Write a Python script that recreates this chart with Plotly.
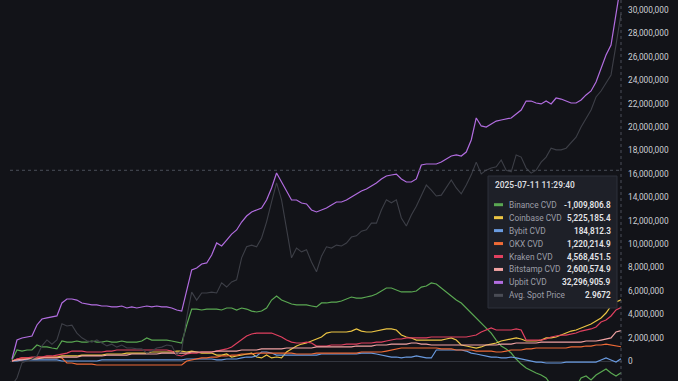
import plotly.graph_objects as go
import pandas as pd

# ---------------- data ----------------
times = pd.date_range(end="2025-07-11 11:29:40", periods=123, freq="35min")

# CVD values in millions
binance_cvd_m = [
    0.09, 0.94, 0.85, 0.94, 0.94, 1.37, 1.20, 1.20, 1.11, 1.03,
    1.71, 1.62, 1.62, 1.71, 1.62, 1.62, 1.71, 1.62, 1.62, 1.71,
    1.62, 1.62, 1.71, 1.62, 1.62, 1.62, 1.71, 1.97, 1.79, 1.79,
    1.79, 1.79, 1.71, 1.62, 1.54, 3.08, 4.44, 4.44, 4.36, 4.44,
    4.44, 4.44, 4.36, 4.53, 4.53, 4.36, 4.53, 4.44, 4.27, 4.19,
    4.27, 4.53, 5.21, 5.56, 5.21, 5.04, 4.87, 4.79, 4.79, 4.79,
    4.70, 4.62, 4.96, 4.96, 5.04, 5.04, 5.13, 5.30, 5.47, 5.38,
    5.38, 5.47, 5.56, 5.73, 5.98, 6.24, 6.24, 6.07, 5.90, 5.90,
    5.90, 5.98, 6.32, 6.41, 6.67, 6.58, 6.24, 5.90, 5.56, 5.21,
    4.96, 4.53, 4.02, 3.59, 3.16, 2.74, 2.39, 1.79, 1.28, 1.03,
    0.68, 0.17, -0.26, -0.60, -0.85, -1.03, -1.20, -1.45, -2.05, -2.31,
    -2.48, -2.14, -2.39, -2.22, -1.45, -1.28, -1.62, -1.20, -0.94, -0.68,
    -1.03, -1.28, -1.0098068,
]
coinbase_cvd_m = [
    0.00, 0.09, 0.17, 0.17, 0.26, 0.26, 0.26, 0.34, 0.34, 0.34,
    0.43, 0.43, 0.43, 0.43, 0.51, 0.51, 0.51, 0.51, 0.51, 0.60,
    0.60, 0.60, 0.60, 0.68, 0.68, 0.68, 0.68, 0.68, 0.77, 0.77,
    0.77, 0.77, 0.77, 0.85, 0.85, 0.77, 0.85, 0.77, 0.68, 0.68,
    0.68, 0.51, 0.51, 0.60, 0.34, 0.43, 0.51, 0.60, 0.68, 0.34,
    0.26, 0.51, 0.26, 0.34, 0.26, 0.77, 1.03, 1.28, 1.45, 1.54,
    1.71, 1.88, 2.05, 2.39, 2.48, 2.48, 2.48, 2.48, 2.56, 2.74,
    2.56, 2.48, 2.48, 2.56, 2.65, 2.74, 2.74, 2.65, 2.22, 2.05,
    1.97, 1.79, 1.79, 1.79, 1.79, 1.79, 1.79, 1.88, 1.97, 1.79,
    1.37, 1.28, 1.20, 1.11, 1.20, 1.37, 1.45, 1.54, 1.71, 1.79,
    1.88, 1.97, 1.88, 1.71, 1.71, 1.71, 1.79, 1.97, 1.97, 2.05,
    2.22, 2.39, 2.56, 2.65, 2.82, 2.99, 3.16, 3.42, 3.68, 4.10,
    4.70, 5.04, 5.2251854,
]
bybit_cvd_m = [
    0.00, 0.00, 0.09, 0.09, 0.09, 0.09, 0.09, 0.09, 0.09, 0.09,
    0.00, 0.00, 0.00, 0.00, 0.00, 0.00, 0.00, 0.00, 0.09, 0.09,
    0.09, 0.09, 0.09, 0.09, 0.09, 0.09, 0.09, 0.09, 0.09, 0.09,
    0.09, 0.09, 0.09, 0.09, 0.09, 0.17, 0.17, 0.17, 0.17, 0.17,
    0.17, 0.09, 0.09, 0.17, 0.17, 0.17, 0.26, 0.34, 0.34, 0.43,
    0.77, 0.77, 0.68, 0.51, 0.51, 0.51, 0.51, 0.51, 0.51, 0.51,
    0.51, 0.51, 0.60, 0.60, 0.60, 0.60, 0.60, 0.60, 0.60, 0.60,
    0.68, 0.68, 0.68, 0.60, 0.51, 0.43, 0.34, 0.34, 0.26, 0.34,
    0.34, 0.43, 0.34, 0.26, 0.26, 0.94, 0.94, 0.94, 0.94, 0.94,
    0.94, 0.85, 0.68, 0.60, 0.51, 0.43, 0.34, 0.34, 0.26, 0.26,
    0.34, 0.26, 0.17, 0.09, 0.00, -0.09, -0.09, -0.17, -0.17, -0.17,
    -0.17, -0.09, -0.09, -0.09, -0.09, -0.09, -0.09, -0.09, 0.09, 0.26,
    0.09, -0.09, 0.1848123,
]
okx_cvd_m = [
    0.00, 0.17, 0.26, 0.26, 0.26, 0.34, 0.34, 0.34, 0.34, 0.34,
    0.26, -0.17, -0.17, -0.26, -0.26, -0.26, -0.26, -0.34, -0.34, -0.34,
    -0.34, -0.34, -0.34, -0.34, -0.34, -0.34, -0.34, -0.34, -0.34, -0.34,
    -0.34, -0.34, -0.34, -0.34, -0.34, 0.00, 0.09, 0.17, 0.26, 0.26,
    0.34, 0.34, 0.43, 0.43, 0.51, 0.51, 0.60, 0.60, 0.60, 0.68,
    0.68, 0.68, 0.68, 0.68, 0.68, 0.68, 0.68, 0.60, 0.60, 0.60,
    0.60, 0.68, 0.68, 0.68, 0.68, 0.68, 0.68, 0.68, 0.68, 0.68,
    0.77, 0.77, 0.77, 0.77, 0.77, 0.85, 0.94, 1.03, 1.11, 1.11,
    1.11, 1.11, 1.11, 1.11, 1.11, 1.11, 1.03, 1.03, 1.03, 0.94,
    0.94, 0.94, 0.94, 0.85, 0.85, 0.85, 0.85, 0.77, 0.77, 0.85,
    0.94, 0.94, 0.94, 1.03, 1.03, 1.11, 1.11, 1.11, 1.11, 1.11,
    1.11, 1.11, 1.20, 1.20, 1.20, 1.28, 1.28, 1.37, 1.37, 1.45,
    1.37, 1.28, 1.2202149,
]
kraken_cvd_m = [
    0.00, 0.17, 0.26, 0.26, 0.34, 0.34, 0.34, 0.43, 0.43, 0.51,
    0.60, 0.68, 0.85, 0.85, 0.85, 0.77, 0.77, 0.77, 0.77, 0.85,
    0.85, 0.94, 0.94, 0.94, 0.94, 0.94, 0.94, 0.94, 0.94, 0.94,
    0.94, 0.94, 0.85, 0.51, 0.43, 0.60, 0.68, 0.68, 0.77, 0.77,
    0.77, 0.85, 0.94, 1.03, 1.20, 1.54, 1.88, 2.14, 2.31, 2.39,
    2.39, 2.39, 2.39, 2.22, 2.05, 1.79, 1.62, 1.54, 1.54, 1.62,
    1.54, 1.28, 1.28, 1.28, 1.37, 1.37, 1.37, 1.45, 1.45, 1.45,
    1.54, 1.54, 1.54, 1.62, 1.62, 1.71, 1.79, 1.88, 1.88, 1.97,
    1.97, 1.97, 1.97, 1.97, 2.05, 2.05, 2.05, 2.05, 2.05, 2.05,
    2.05, 2.05, 2.14, 2.22, 2.48, 2.65, 2.82, 2.65, 2.65, 2.65,
    2.65, 2.74, 2.65, 1.79, 1.79, 1.79, 1.79, 1.88, 2.05, 2.14,
    2.22, 2.22, 2.31, 2.39, 2.56, 2.65, 2.74, 2.91, 3.33, 3.50,
    3.85, 4.36, 4.5684515,
]
bitstamp_cvd_m = [
    0.00, 0.09, 0.09, 0.17, 0.17, 0.17, 0.26, 0.26, 0.26, 0.26,
    0.34, 0.34, 0.34, 0.34, 0.43, 0.43, 0.43, 0.43, 0.43, 0.51,
    0.51, 0.51, 0.51, 0.51, 0.60, 0.60, 0.60, 0.60, 0.60, 0.60,
    0.68, 0.68, 0.68, 0.68, 0.68, 0.68, 0.77, 0.77, 0.77, 0.77,
    0.77, 0.85, 0.85, 0.85, 0.85, 0.85, 0.94, 0.94, 0.94, 0.94,
    1.03, 1.03, 1.03, 1.03, 1.03, 1.11, 1.11, 1.11, 1.11, 1.11,
    1.11, 1.20, 1.20, 1.20, 1.20, 1.20, 1.20, 1.20, 1.20, 1.28,
    1.28, 1.28, 1.28, 1.37, 1.37, 1.37, 1.45, 1.45, 1.45, 1.45,
    1.54, 1.54, 1.45, 1.45, 1.37, 1.37, 1.37, 1.37, 1.37, 1.37,
    1.37, 1.37, 1.37, 1.37, 1.37, 1.37, 1.37, 1.37, 1.45, 1.45,
    1.45, 1.54, 1.54, 1.54, 1.54, 1.54, 1.62, 1.62, 1.62, 1.62,
    1.62, 1.62, 1.62, 1.62, 1.62, 1.71, 1.71, 1.71, 1.79, 1.88,
    1.97, 2.48, 2.6005749,
]
upbit_cvd_m = [
    0.17, 1.79, 1.97, 2.05, 2.14, 3.08, 3.59, 3.68, 3.76, 3.85,
    4.96, 5.30, 5.30, 5.21, 4.96, 4.87, 4.79, 4.79, 4.70, 4.70,
    4.62, 4.62, 4.70, 4.53, 4.62, 4.53, 4.62, 4.70, 4.62, 4.70,
    4.62, 4.62, 4.53, 4.36, 4.27, 6.07, 7.78, 7.95, 8.29, 8.38,
    9.06, 10.09, 9.83, 10.34, 10.85, 11.20, 11.88, 12.39, 12.74, 12.91,
    13.08, 13.76, 14.79, 16.07, 15.30, 14.62, 13.76, 13.76, 13.50, 13.42,
    12.91, 12.74, 12.91, 13.08, 13.33, 13.59, 13.59, 13.76, 14.02, 14.27,
    14.53, 14.70, 14.96, 15.21, 15.56, 15.81, 15.90, 15.98, 15.56, 15.30,
    15.30, 15.56, 16.75, 16.84, 16.84, 16.84, 17.01, 17.26, 17.52, 17.61,
    17.52, 17.86, 18.89, 20.77, 20.09, 20.00, 20.26, 20.51, 20.60, 20.68,
    20.77, 21.11, 21.45, 22.22, 22.22, 22.05, 21.97, 22.22, 21.97, 22.48,
    22.39, 22.22, 22.05, 22.05, 22.31, 22.74, 23.08, 23.85, 25.04, 26.15,
    27.01, 29.66, 32.2969059,
]
avg_spot_price = [
    2.091, 2.107, 2.143, 2.147, 2.152, 2.159, 2.183, 2.197, 2.187, 2.197,
    2.235, 2.230, 2.232, 2.213, 2.202, 2.195, 2.192, 2.197, 2.190, 2.183,
    2.187, 2.180, 2.185, 2.178, 2.178, 2.176, 2.176, 2.166, 2.171, 2.178,
    2.180, 2.185, 2.183, 2.161, 2.173, 2.251, 2.310, 2.291, 2.308, 2.308,
    2.310, 2.308, 2.332, 2.322, 2.334, 2.339, 2.391, 2.417, 2.421, 2.417,
    2.438, 2.476, 2.523, 2.568, 2.528, 2.464, 2.391, 2.414, 2.405, 2.410,
    2.381, 2.358, 2.395, 2.417, 2.414, 2.421, 2.419, 2.426, 2.440, 2.443,
    2.454, 2.457, 2.473, 2.473, 2.504, 2.528, 2.521, 2.528, 2.485, 2.466,
    2.492, 2.513, 2.539, 2.563, 2.551, 2.537, 2.539, 2.556, 2.575, 2.556,
    2.542, 2.563, 2.587, 2.617, 2.589, 2.598, 2.603, 2.606, 2.622, 2.598,
    2.594, 2.634, 2.629, 2.603, 2.591, 2.598, 2.617, 2.629, 2.650, 2.646,
    2.646, 2.650, 2.662, 2.676, 2.700, 2.721, 2.740, 2.771, 2.785, 2.804,
    2.823, 2.894, 2.9672,
]
cursor_value = 16_300_000

series_names = ["Binance CVD", "Coinbase CVD", "Bybit CVD", "OKX CVD",
                "Kraken CVD", "Bitstamp CVD", "Upbit CVD"]
series_values = [binance_cvd_m, coinbase_cvd_m, bybit_cvd_m, okx_cvd_m,
                 kraken_cvd_m, bitstamp_cvd_m, upbit_cvd_m]
series_colors = ["#5aa852", "#ecc544", "#6a9be0", "#ee6a36",
                 "#e0405f", "#f1a3a3", "#b26de0"]
price_color = "#3d3f47"

# ---------------- figure ----------------
BG = "#121318"
W, H = 678, 381
ML, MR = 10, 56
PW = W - ML - MR
FONT = "Roboto, Inter, sans-serif"

def px_x(p):
    return (p - ML) / PW

def px_y(p):
    return 1 - p / H

fig = go.Figure()
fig.add_trace(go.Scatter(x=times, y=avg_spot_price, yaxis="y2", mode="lines",
                         name="Avg. Spot Price",
                         line=dict(color=price_color, width=1.1)))
for name, vals, col in zip(series_names, series_values, series_colors):
    fig.add_trace(go.Scatter(x=times, y=[v * 1e6 for v in vals], mode="lines",
                             name=name, line=dict(color=col, width=1.2)))

step = times[1] - times[0]
fig.update_layout(
    width=W, height=H,
    margin=dict(l=ML, r=MR, t=0, b=0, autoexpand=False),
    paper_bgcolor=BG, plot_bgcolor=BG,
    showlegend=False,
    font=dict(family=FONT),
    xaxis=dict(visible=False,
               range=[times[0] - step * 0.4, times[-1] + step * 0.2]),
    yaxis=dict(side="right", range=[-1.709e6, 30.855e6], tick0=0, dtick=2e6,
               tickformat=",.0f", showgrid=False, zeroline=True,
               zerolinecolor="#33363f", zerolinewidth=1, showline=False,
               ticks="", ticklabelstandoff=5, automargin=False,
               tickfont=dict(family=FONT, size=8.3, color="#cdcfd5")),
    yaxis2=dict(overlaying="y", visible=False, range=[2.10, 3.00]),
)

shapes = []
# crosshair
shapes.append(dict(type="line", xref="x", yref="paper", x0=times[-1], x1=times[-1],
                   y0=0, y1=1, line=dict(color="#4b4e58", width=1, dash="dot")))
shapes.append(dict(type="line", xref="paper", yref="y", x0=0, x1=1,
                   y0=cursor_value, y1=cursor_value,
                   line=dict(color="#4b4e58", width=1, dash="dot")))
# tooltip box
shapes.append(dict(type="rect", xref="paper", yref="paper",
                   x0=px_x(488), x1=px_x(617), y0=px_y(308), y1=px_y(176),
                   fillcolor="#1e2028", line=dict(color="#2d303b", width=1),
                   layer="above"))

annotations = []
annotations.append(dict(xref="paper", yref="paper", x=px_x(493), y=px_y(185),
                        xanchor="left", yanchor="middle", showarrow=False,
                        text=times[-1].strftime("%Y-%m-%d %H:%M:%S"),
                        font=dict(size=8.4, color="#d9dadf", weight=600)))

rows = [(n, f"{v[-1] * 1e6:,.1f}", c) for n, v, c in zip(series_names, series_values, series_colors)]
rows.append(("Avg. Spot Price", f"{avg_spot_price[-1]:.4f}", "#4a4c55"))
row_y0, row_dy = 204.7, 12.95
for k, (label, val, col) in enumerate(rows):
    ry = row_y0 + k * row_dy
    shapes.append(dict(type="line", xref="paper", yref="paper",
                       x0=px_x(494), x1=px_x(503), y0=px_y(ry), y1=px_y(ry),
                       line=dict(color=col, width=3), layer="above"))
    annotations.append(dict(xref="paper", yref="paper", x=px_x(507), y=px_y(ry),
                            xanchor="left", yanchor="middle", showarrow=False,
                            text=label, font=dict(size=8.3, color="#9c9ea7")))
    annotations.append(dict(xref="paper", yref="paper", x=px_x(612.5), y=px_y(ry),
                            xanchor="right", yanchor="middle", showarrow=False,
                            text=val, font=dict(size=8.2, color="#e4e5e9", weight=600)))

fig.update_layout(shapes=shapes, annotations=annotations)
fig.write_html(
    "out.html",
    config={"displayModeBar": False},
    post_script="document.body.style.margin='0';document.body.style.background='%s';" % BG,
)
